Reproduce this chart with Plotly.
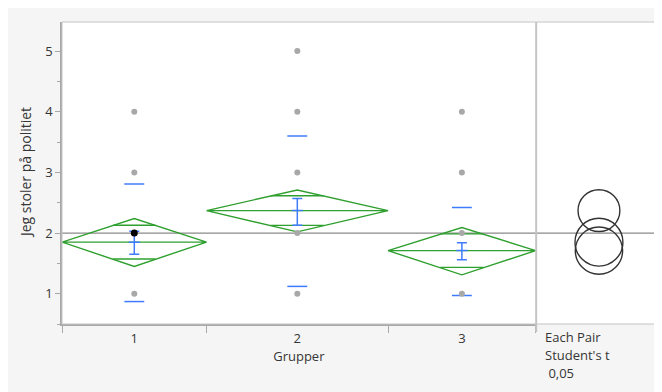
import numpy as np
import plotly.graph_objects as go

# ---------------- data ----------------
groups = ["1", "2", "3"]
group_n = [47, 59, 48]            # group widths (proportional to group size)
means = [1.85, 2.37, 1.71]
ci_low = [1.45, 2.02, 1.31]       # means diamonds (95% CI)
ci_high = [2.24, 2.71, 2.09]
se_low = [1.65, 2.13, 1.56]       # mean error bars
se_high = [2.03, 2.57, 1.84]
sd_low = [0.87, 1.12, 0.97]       # mean -/+ std dev marks
sd_high = [2.81, 3.60, 2.42]
grand_mean = 2.0

point_group = ["1", "1", "1", "2", "2", "2", "2", "2", "3", "3", "3", "3"]
point_value = [1, 3, 4, 1, 2, 3, 4, 5, 1, 2, 3, 4]
selected_group = ["1"]
selected_value = [2]

y_ticks = [1, 2, 3, 4, 5]
y_range = [0.5, 5.48]

y_title = "Jeg stoler på politiet"
x_title = "Grupper"
compare_text = ["Each Pair", "Student's t", " 0,05"]

# ---------------- styling ----------------
FONT = "Open Sans"
TXT = "#363636"
GREEN = "#2fa02f"
BLUE = "#3f7bff"
GRAY_PT = "#a8a8a8"
AXIS = "#a8a8a8"
FS = 14

W, H = 662, 392
ML, MR, MT, MB = 54, 9, 14, 76
px_w = W - ML - MR
px_h = H - MT - MB
main_frac = 473.7 / px_w

edges = np.concatenate([[0], np.cumsum(group_n)])
centers = (edges[:-1] + edges[1:]) / 2
cmap = dict(zip(groups, centers))
total = edges[-1]
sd_half = total * 0.021  # half-length of the std dev marks

fig = go.Figure()

# means diamonds
for i, g in enumerate(groups):
    l, r, c = edges[i], edges[i + 1], centers[i]
    m, lo, hi = means[i], ci_low[i], ci_high[i]
    fig.add_trace(go.Scatter(
        x=[l, c, r, c, l, r], y=[m, hi, m, lo, m, m], mode="lines",
        line=dict(color=GREEN, width=1.4), hoverinfo="skip", showlegend=False))
    half = (hi - lo) / 2
    k = 1 / np.sqrt(2)
    ow = (1 - k) * (r - l) / 2
    for s in (1, -1):
        yy = m + s * half * k
        fig.add_trace(go.Scatter(
            x=[c - ow, c + ow], y=[yy, yy], mode="lines",
            line=dict(color=GREEN, width=1.4), hoverinfo="skip", showlegend=False))

# std dev marks
for i, g in enumerate(groups):
    c = centers[i]
    for yy in (sd_low[i], sd_high[i]):
        fig.add_trace(go.Scatter(
            x=[c - sd_half, c + sd_half], y=[yy, yy], mode="lines",
            line=dict(color=BLUE, width=1.5), hoverinfo="skip", showlegend=False))

# mean error bars
fig.add_trace(go.Scatter(
    x=centers, y=means, mode="markers",
    marker=dict(symbol="line-ew-open", size=8, line=dict(color=BLUE, width=1.5), color=BLUE),
    error_y=dict(type="data", symmetric=False,
                 array=[h - m for h, m in zip(se_high, means)],
                 arrayminus=[m - l for l, m in zip(se_low, means)],
                 color=BLUE, thickness=1.5, width=5),
    hoverinfo="skip", showlegend=False))

# data points
fig.add_trace(go.Scatter(
    x=[cmap[g] for g in point_group], y=point_value, mode="markers",
    marker=dict(color=GRAY_PT, size=6), showlegend=False))
fig.add_trace(go.Scatter(
    x=[cmap[g] for g in selected_group], y=selected_value, mode="markers",
    marker=dict(color="black", size=7), showlegend=False))

# invisible trace on the comparison-circle subplot
fig.add_trace(go.Scatter(x=[0], y=[grand_mean], xaxis="x2", yaxis="y",
                         mode="markers", marker=dict(opacity=0), hoverinfo="skip",
                         showlegend=False))
# trace for boundary-tick overlay axis
fig.add_trace(go.Scatter(x=[0], y=[grand_mean], xaxis="x3", yaxis="y",
                         mode="markers", marker=dict(opacity=0), hoverinfo="skip",
                         showlegend=False))

shapes = []
# plot frame
shapes.append(dict(type="rect", xref="paper", yref="paper", x0=0, x1=1, y0=0, y1=1,
                   line=dict(color="#c4c4c4", width=1), layer="above"))
# grand mean line
shapes.append(dict(type="line", xref="paper", yref="y", x0=0, x1=1,
                   y0=grand_mean, y1=grand_mean,
                   line=dict(color="#8a8a8a", width=1.2), layer="below"))
# separator
shapes.append(dict(type="line", xref="paper", yref="paper",
                   x0=main_frac + 0.0008, x1=main_frac + 0.0008,
                   y0=-8 / px_h, y1=1, line=dict(color="#c4c4c4", width=2), layer="above"))
# comparison circles
for i, g in enumerate(groups):
    r = (ci_high[i] - ci_low[i]) / 2
    shapes.append(dict(type="circle", xref="x2", yref="y",
                       x0=-r, x1=r, y0=means[i] - r, y1=means[i] + r,
                       line=dict(color="#333333", width=1.4), layer="above"))

annotations = []
for j, t in enumerate(compare_text):
    annotations.append(dict(text=t, xref="paper", yref="paper",
                            x=(535 - ML) / px_w, y=-(13 + 18 * j) / px_h,
                            xanchor="left", yanchor="middle", showarrow=False,
                            font=dict(family=FONT, size=FS - 1, color=TXT)))
# y-axis title placed explicitly
annotations.append(dict(text=y_title, xref="paper", yref="paper",
                        x=-(37 / px_w), y=0.5, xanchor="center", yanchor="middle",
                        textangle=-90, showarrow=False,
                        font=dict(family=FONT, size=FS, color=TXT)))

fig.update_layout(
    width=W, height=H, autosize=False,
    margin=dict(l=ML, r=MR, t=MT, b=MB),
    paper_bgcolor="#f5f5f5", plot_bgcolor="white",
    font=dict(family=FONT, size=FS, color=TXT),
    shapes=shapes, annotations=annotations,
    xaxis=dict(domain=[0, main_frac], range=[0, total], tickvals=list(centers),
               ticktext=groups, ticks="outside", ticklen=2, tickcolor="rgba(0,0,0,0)",
               showgrid=False, zeroline=False, showline=True, linecolor=AXIS, linewidth=1.5,
               title=dict(text=x_title, standoff=2, font=dict(size=FS - 1)),
               tickfont=dict(size=FS - 1)),
    xaxis3=dict(overlaying="x", range=[0, total], tickvals=list(edges),
                ticks="outside", ticklen=8, tickcolor=AXIS, tickwidth=1.2,
                showticklabels=False, showgrid=False, zeroline=False, anchor="y",
                side="bottom"),
    xaxis2=dict(domain=[main_frac + 0.002, 1], range=[-0.9, 0.9], anchor="y",
                scaleanchor="y", scaleratio=1, constrain="range",
                showticklabels=False, ticks="", showgrid=False, zeroline=False,
                showline=False),
    yaxis=dict(range=y_range, tickvals=y_ticks, ticks="outside", ticklen=5,
               tickcolor=AXIS, showgrid=False, zeroline=False, showline=True,
               linecolor=AXIS, linewidth=1.5,
               minor=dict(tick0=0.5, dtick=1, ticks="outside", ticklen=3, tickcolor=AXIS),
               tickfont=dict(size=FS - 1)),
)

fig.write_html("out.html")
